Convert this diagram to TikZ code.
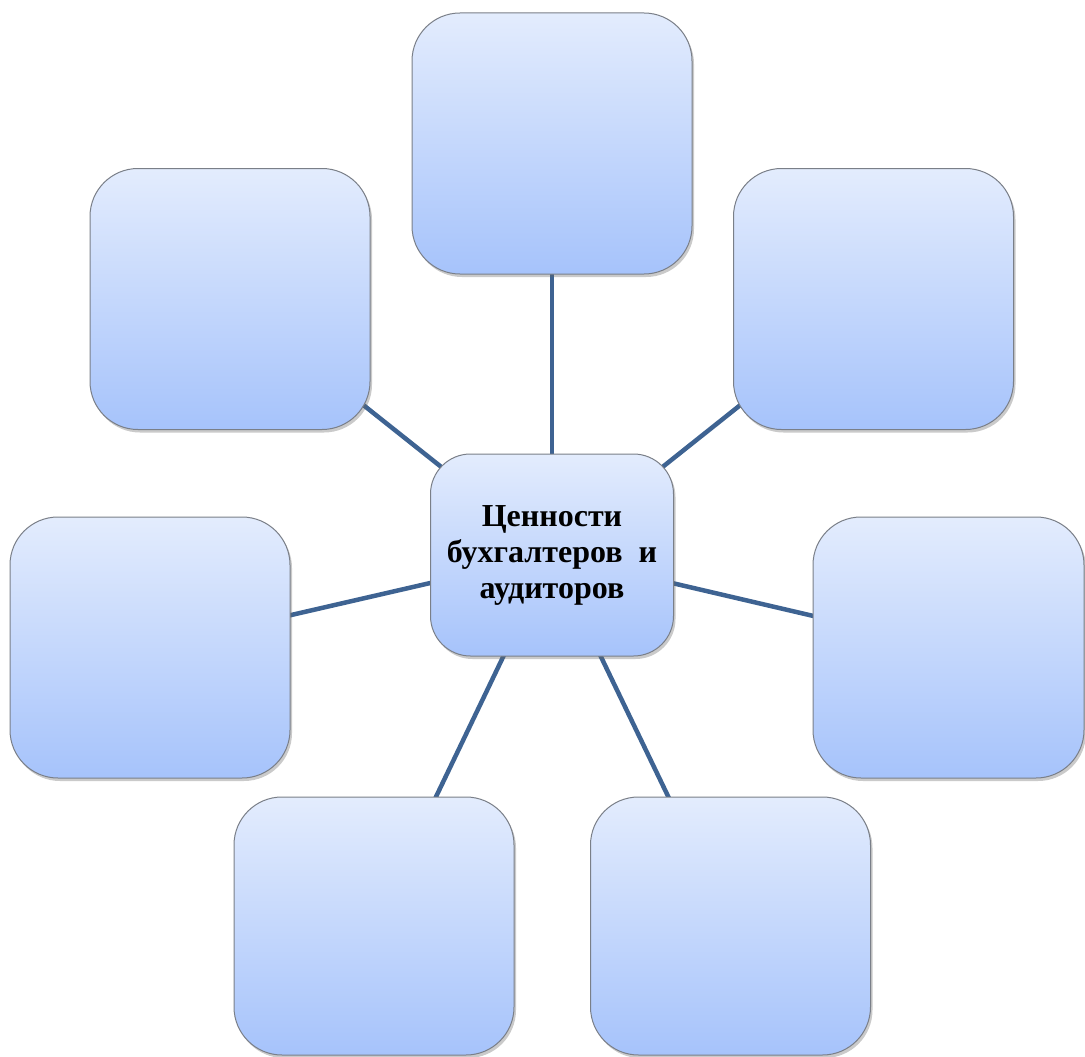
\documentclass[tikz,border=0pt]{standalone}
\usepackage{fontspec}
\setmainfont{Liberation Serif}
\usetikzlibrary{shadows,backgrounds}
\definecolor{boxtop}{HTML}{E3ECFD}
\definecolor{boxbot}{HTML}{A6C3FB}
\definecolor{boxline}{HTML}{7A7F88}
\definecolor{linkcol}{HTML}{3E6392}
\tikzset{
  bubble/.style={draw=boxline, line width=1pt, rounded corners=48pt,
    top color=boxtop, bottom color=boxbot,
    minimum width=280pt, minimum height=261pt, inner sep=0pt,
    drop shadow={shadow xshift=2pt, shadow yshift=-3pt, opacity=0.35, fill=black!60}},
  hub/.style={bubble, rounded corners=40pt, minimum width=243pt, minimum height=202pt,
    align=center, font=\bfseries\fontsize{32}{36}\selectfont},
  link/.style={draw=linkcol, line width=4.5pt}
}
\begin{document}
\begin{tikzpicture}[x=1pt,y=-1pt]
\useasboundingbox (0,0) rectangle (1085,1057);
\node[bubble] (t)  at (552,143.5) {};
\node[bubble] (tl) at (230,299) {};
\node[bubble] (tr) at (873.5,299) {};
\node[bubble] (l)  at (150,647.5) {};
\node[bubble, minimum width=271pt] (r) at (948.5,647.5) {};
\node[bubble, minimum height=258pt] (bl) at (374,926) {};
\node[bubble, minimum height=258pt] (br) at (730.5,926) {};
\node[hub] (c) at (552,555) {Ценности\\бухгалтеров\ \ и\\аудиторов};
\begin{pgfonlayer}{background}
\foreach \n in {t,tl,tr,l,r,bl,br}
  \draw[link] (c.center) -- (\n.center);
\end{pgfonlayer}
\end{tikzpicture}
\end{document}
